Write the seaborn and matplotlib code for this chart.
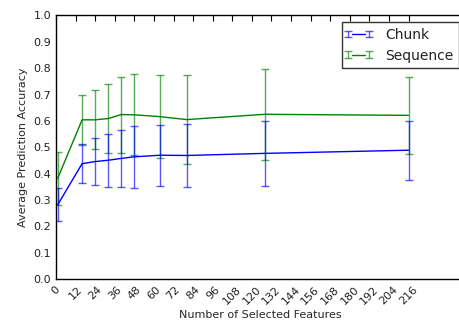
import matplotlib
matplotlib.use("Agg")
import matplotlib.pyplot as plt
import seaborn as sns
import pandas as pd
from matplotlib.legend_handler import HandlerTuple, HandlerErrorbar
from matplotlib.container import ErrorbarContainer

n_features = [1, 16, 24, 32, 40, 48, 64, 80, 128, 216]
chunk_mean = [0.282, 0.438, 0.446, 0.451, 0.458, 0.464, 0.470, 0.469, 0.477, 0.489]
chunk_err = [0.063, 0.075, 0.090, 0.100, 0.107, 0.117, 0.116, 0.121, 0.122, 0.112]
seq_mean = [0.382, 0.604, 0.604, 0.609, 0.624, 0.623, 0.616, 0.605, 0.625, 0.621]
seq_err = [0.102, 0.096, 0.112, 0.131, 0.144, 0.153, 0.157, 0.168, 0.173, 0.147]
series_names = ["Chunk", "Sequence"]
x_ticks = list(range(0, 217, 12))
y_ticks = [i / 10 for i in range(11)]

sns.set_style("white")
plt.rcParams.update({
    "font.family": ["DejaVu Sans"],
    "xtick.direction": "in",
    "ytick.direction": "in",
    "xtick.top": True,
    "ytick.right": False,
    "xtick.major.size": 4,
    "ytick.major.size": 4,
    "axes.edgecolor": "black",
    "axes.linewidth": 1.0,
    "xtick.color": "black",
    "ytick.color": "black",
    "xtick.labelcolor": "#222222",
    "ytick.labelcolor": "#222222",
    "text.color": "#222222",
})

df = pd.DataFrame({
    "features": n_features * 2,
    "acc": chunk_mean + seq_mean,
    "err": chunk_err + seq_err,
    "series": [series_names[0]] * len(n_features) + [series_names[1]] * len(n_features),
})

fig = plt.figure(figsize=(4.6, 3.24), dpi=100)
ax = fig.add_axes([56 / 460, (324 - 279.3) / 324, (464 - 56) / 460, (279.3 - 15.3) / 324])

colors = {"Chunk": (0, 0, 1), "Sequence": (0, 0.5, 0)}
order = ["Sequence", "Chunk"]
handles = {}
for name in order:
    sub = df[df["series"] == name]
    eb = ax.errorbar(sub["features"], sub["acc"], yerr=sub["err"], fmt="none",
                     ecolor=colors[name], elinewidth=1.0, capsize=3, capthick=1.0,
                     alpha=0.65)
    handles[name] = [eb]
sns.lineplot(data=df, x="features", y="acc", hue="series", palette=colors,
             hue_order=order, linewidth=1.0, ax=ax, legend=False, estimator=None)
for line, name in zip(ax.get_lines()[-2:], order):
    handles[name].insert(0, line)

ax.set_xlim(0, 250)
ax.set_ylim(0, 1.0)
ax.set_xticks(x_ticks)
ax.set_xticklabels([str(t) for t in x_ticks], rotation=45, fontsize=8)
ax.set_yticks(y_ticks)
ax.set_yticklabels([f"{t:.1f}" for t in y_ticks], fontsize=8)
ax.set_xlabel("Number of Selected Features", fontsize=8, labelpad=3)
ax.set_ylabel("Average Prediction Accuracy", fontsize=8)

leg = ax.legend([tuple(handles[n]) for n in series_names], series_names,
                handler_map={tuple: HandlerTuple(ndivide=1),
                             ErrorbarContainer: HandlerErrorbar(marker_pad=0.05, numpoints=2,
                                                                yerr_size=0.25)},
                numpoints=2, loc="upper right",
                bbox_to_anchor=(458.7 / 460, (324 - 22.3) / 324),
                bbox_transform=fig.transFigure, borderaxespad=0,
                fontsize=10, fancybox=False, frameon=True,
                handlelength=1.6, handletextpad=1.1)
leg.get_frame().set_edgecolor("black")
leg.get_frame().set_linewidth(1.0)

fig.savefig("out.png", dpi=100)
